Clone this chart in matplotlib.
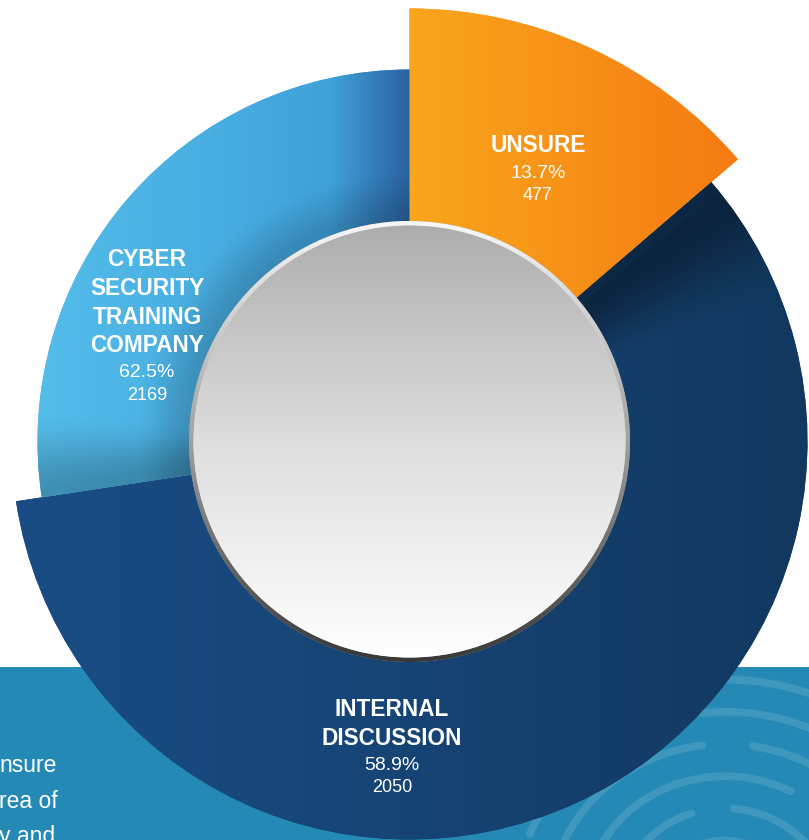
import numpy as np
import matplotlib
matplotlib.use("Agg")
import matplotlib.pyplot as plt
from matplotlib.patches import Wedge, Circle, Rectangle, Arc

# ---- survey answers -------------------------------------------------------
categories = ["UNSURE", "INTERNAL\nDISCUSSION", "CYBER\nSECURITY\nTRAINING\nCOMPANY"]
percents = [13.7, 58.9, 62.5]
counts = [477, 2050, 2169]

side_text = ["nsure", "rea of", "y and"]

# ---- layout (pixels) --------------------------------------------------------
W, H = 809, 840
cx, cy = 409.5, 441.5
outer_r = [433, 398, 372]          # unsure, internal, cyber
hole_r = 216
label_xy = [(538, 146), (392, 710), (147, 260)]
line_gap_bold = 28.5
line_gap_num = 22.5

plt.rcParams["font.family"] = ["Liberation Sans", "DejaVu Sans"]

fig = plt.figure(figsize=(W / 100, H / 100), dpi=100)
ax = fig.add_axes([0, 0, 1, 1])
ax.set_xlim(0, W)
ax.set_ylim(H, 0)
ax.axis("off")


def rgb(h):
    h = h.lstrip("#")
    return np.array([int(h[i:i + 2], 16) / 255 for i in (0, 2, 4)])


def ramp(coord, stops, colors):
    cols = np.array([rgb(c) for c in colors])
    return np.stack([np.interp(coord, stops, cols[:, k]) for k in range(3)], axis=-1)


def smooth(t):
    t = np.clip(t, 0, 1)
    return t * t * (3 - 2 * t)


Y, X = np.mgrid[0:H, 0:W] + 0.5
R = np.hypot(X - cx, Y - cy)
TH = np.degrees(np.arctan2(Y - cy, X - cx)) % 360

# ---- teal footer band with fingerprint ridges ------------------------------
ax.add_patch(Rectangle((0, 667), W, H - 667, facecolor="#2589B5",
                       edgecolor="none", zorder=1))
band_clip = Rectangle((0, 667), W, H - 667, transform=ax.transData)
ridges = [
    (70, 200, 330), (105, 190, 250), (105, 275, 345),
    (140, 205, 300), (140, 318, 360), (175, 195, 262), (175, 280, 350),
    (210, 200, 240), (210, 255, 330), (245, 215, 300), (245, 312, 345),
    (280, 240, 320),
]
for r, t1, t2 in ridges:
    a = Arc((725, 905), 2 * r, 2 * r * 0.92, theta1=t1, theta2=t2,
            color="white", alpha=0.12, lw=5.5, zorder=2)
    a.set_capstyle("round")
    ax.add_patch(a)
    a.set_clip_path(band_clip)

# ---- ring segments ----------------------------------------------------------
spans = [3.6 * percents[0], 3.6 * percents[1]]
spans.append(360 - sum(spans))
starts = [270.0]
for s in spans[:-1]:
    starts.append(starts[-1] + s)
b_int = starts[1] % 360          # unsure / internal edge
b_cyb = starts[2] % 360          # internal / cyber edge

# unsure: warm horizontal sweep
img_un = ramp(X, [407, 745], ["#F9A71C", "#F57912"])

# internal: navy sweep, shadowed along the unsure edge
img_in = ramp(X, [22, 400, 808], ["#1A4D85", "#164475", "#12385F"])
d_in = (TH - b_int) % 360
shade = 0.60 + 0.40 * smooth((d_in - 2) / 18)
shade = np.where(d_in < 2, 0.66, shade)
img_in = img_in * shade[..., None]

# cyber: light blue, darker towards its right edge, the hole and the lower edge
img_cy = ramp(X, [37, 200, 330, 407], ["#54BDEA", "#49AFE2", "#40A2DA", "#2A64A2"])
f_hole = 0.82 + 0.18 * smooth((R - hole_r) / 62)
d_cy = (TH - b_cyb) % 360
f_edge = 0.76 + 0.24 * smooth(d_cy / 14)
img_cy = img_cy * (f_hole * f_edge)[..., None]

images = [img_un, img_in, img_cy]
base_cols = ["#F7901A", "#15406C", "#45A8DD"]

for i in range(3):
    w = Wedge((cx, cy), outer_r[i], starts[i], starts[i] + spans[i],
              facecolor=base_cols[i], edgecolor="none", zorder=3)
    ax.add_patch(w)
    im = ax.imshow(np.clip(images[i], 0, 1), extent=(0, W, H, 0),
                   interpolation="bilinear", zorder=4)
    im.set_clip_path(w)

# ---- centre disc with bevelled rim -------------------------------------------
rim = Circle((cx, cy), hole_r + 4.5, facecolor="#999999", edgecolor="none", zorder=5)
ax.add_patch(rim)
rim_img = ramp(Y, [cy - hole_r - 5, cy, cy + hole_r + 5], ["#F8F8F8", "#A0A0A0", "#383838"])
im = ax.imshow(rim_img, extent=(0, W, H, 0), interpolation="bilinear", zorder=6)
im.set_clip_path(rim)

disc = Circle((cx, cy), hole_r, facecolor="#DDDDDD", edgecolor="none", zorder=7)
ax.add_patch(disc)
disc_img = ramp(Y, [cy - hole_r, cy, cy + hole_r], ["#ADADAD", "#DEDEDE", "#FFFFFF"])
im = ax.imshow(disc_img, extent=(0, W, H, 0), interpolation="bilinear", zorder=8)
im.set_clip_path(disc)

ax.set_xlim(0, W)
ax.set_ylim(H, 0)

# ---- labels -------------------------------------------------------------------
for (lx, ly), name, pct, n in zip(label_xy, categories, percents, counts):
    y = ly
    for line in name.split("\n"):
        ax.text(lx, y, line, ha="center", va="center", color="white",
                fontsize=16.3, fontweight="bold", zorder=10)
        y += line_gap_bold
    y -= line_gap_bold - 27
    ax.text(lx, y, f"{pct}%", ha="center", va="center", color="white",
            fontsize=14, zorder=10)
    ax.text(lx, y + line_gap_num, f"{n}", ha="center", va="center",
            color="white", fontsize=13, zorder=10)

for k, line in enumerate(side_text):
    ax.text(-1, 766 + 35 * k, line, ha="left", va="center", color="white",
            fontsize=16.5, zorder=10)

fig.savefig("out.png", dpi=100)
